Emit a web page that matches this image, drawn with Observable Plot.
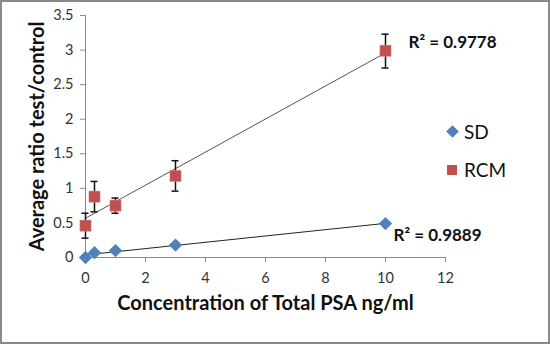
<!DOCTYPE html>
<html>
<head>
<meta charset="utf-8">
<script src="https://cdn.jsdelivr.net/npm/d3@7"></script>
<script src="https://cdn.jsdelivr.net/npm/@observablehq/plot@0.6"></script>
<style>
  html, body { margin: 0; padding: 0; background: #fff; }
  #wrap { position: relative; width: 550px; height: 344px; overflow: hidden; font-family: Lato, "Open Sans", sans-serif; }
  #border { position: absolute; left: 0; top: 0; width: 550px; height: 344px; box-sizing: border-box; border: 2px solid #8a8a8a; pointer-events: none; }
  .leg { position: absolute; font-size: 19px; color: #111; display: flex; align-items: center; }
</style>
</head>
<body>
<div id="wrap"></div>
<script>
// Data
const concentrations = [0, 0.3, 1, 3, 10];
const sdValues = [0.0, 0.07, 0.10, 0.18, 0.49];
const rcmValues = [0.46, 0.88, 0.75, 1.18, 2.99];
const rcmLow = [0.28, 0.66, 0.64, 0.96, 2.74];
const rcmHigh = [0.64, 1.10, 0.86, 1.40, 3.23];
const seriesNames = ["SD", "RCM"];
const seriesColors = ["#4F81BD", "#C0504D"];
const r2Labels = ["R² = 0.9889", "R² = 0.9778"];
const xTicks = [0, 2, 4, 6, 8, 10, 12];
const yTicks = [0, 0.5, 1, 1.5, 2, 2.5, 3, 3.5];

const sd = concentrations.map((x, i) => ({x, y: sdValues[i]}));
const rcm = concentrations.map((x, i) => ({x, y: rcmValues[i], lo: rcmLow[i], hi: rcmHigh[i]}));
const last = concentrations.length - 1;
const sdLabel = [{x: concentrations[last], y: sdValues[last], text: r2Labels[0]}];
const rcmLabel = [{x: concentrations[last], y: rcmValues[last], text: r2Labels[1]}];

const plot = Plot.plot({
  width: 550,
  height: 344,
  marginLeft: 85,
  marginRight: 105,
  marginTop: 15,
  marginBottom: 87,
  style: {fontFamily: "Lato, 'Open Sans', sans-serif", background: "transparent", overflow: "visible"},
  x: {domain: [0, 12], ticks: xTicks, tickFormat: d => d, label: null},
  y: {domain: [0, 3.5], ticks: yTicks, tickFormat: d => d, label: null},
  marks: [
    Plot.ruleX([0], {stroke: "#8a8a8a", strokeWidth: 1}),
    Plot.ruleY([0], {stroke: "#8a8a8a", strokeWidth: 1}),
    Plot.axisX({ticks: xTicks, tickFormat: d => d, tickSize: 5, tickPadding: 10, stroke: "#8a8a8a", fill: "#333", fontSize: 14.5, label: null}),
    Plot.axisY({ticks: yTicks, tickFormat: d => d, tickSize: 5, tickPadding: 7, stroke: "#8a8a8a", fill: "#333", fontSize: 14.5, label: null}),
    Plot.linearRegressionY(rcm, {x: "x", y: "y", ci: 0, stroke: "#555", strokeWidth: 1}),
    Plot.linearRegressionY(sd, {x: "x", y: "y", ci: 0, stroke: "#222", strokeWidth: 1}),
    Plot.ruleX(rcm, {x: "x", y1: "lo", y2: "hi", stroke: "#111", strokeWidth: 1.5}),
    Plot.ruleY(rcm, {y: "lo", x1: "x", x2: "x", insetLeft: -3.5, insetRight: -3.5, stroke: "#111", strokeWidth: 1.5}),
    Plot.ruleY(rcm, {y: "hi", x1: "x", x2: "x", insetLeft: -3.5, insetRight: -3.5, stroke: "#111", strokeWidth: 1.5}),
    Plot.dot(sd, {x: "x", y: "y", symbol: "diamond2", r: 6, fill: seriesColors[0], stroke: "none"}),
    Plot.dot(rcm, {x: "x", y: "y", symbol: "square", r: 6.3, fill: seriesColors[1], stroke: "#d88", strokeWidth: 0.5}),
    Plot.text(sdLabel, {x: "x", y: "y", text: "text", dx: 8, dy: 12, textAnchor: "start", fontWeight: "bold", fontSize: 17, fill: "#111"}),
    Plot.text(rcmLabel, {x: "x", y: "y", text: "text", dx: 23, dy: -8, textAnchor: "start", fontWeight: "bold", fontSize: 17, fill: "#111"}),
    Plot.text(["Concentration of Total PSA ng/ml"], {frameAnchor: "bottom", dy: 46, textAnchor: "middle", fontWeight: "bold", fontSize: 20, fill: "#111", lineAnchor: "middle"}),
    Plot.text(["Average ratio test/control"], {frameAnchor: "left", dx: -48, rotate: -90, textAnchor: "middle", fontWeight: "bold", fontSize: 20, fill: "#111", lineAnchor: "middle"})
  ]
});

const wrap = document.getElementById("wrap");
wrap.appendChild(plot);

const legendItems = [
  {name: seriesNames[0], color: seriesColors[0], shape: "diamond", top: 120},
  {name: seriesNames[1], color: seriesColors[1], shape: "square", top: 158}
];
for (const item of legendItems) {
  const div = document.createElement("div");
  div.className = "leg";
  div.style.left = "445px";
  div.style.top = item.top + "px";
  const sym = document.createElement("span");
  sym.style.display = "inline-block";
  sym.style.background = item.color;
  if (item.shape === "diamond") {
    sym.style.width = "9px"; sym.style.height = "9px"; sym.style.transform = "rotate(45deg)"; sym.style.margin = "0 7px 0 3px";
  } else {
    sym.style.width = "10px"; sym.style.height = "10px"; sym.style.margin = "0 7px 0 2px";
  }
  const txt = document.createElement("span");
  txt.textContent = item.name;
  div.appendChild(sym); div.appendChild(txt);
  wrap.appendChild(div);
}
const border = document.createElement("div");
border.id = "border";
wrap.appendChild(border);
</script>
</body>
</html>
